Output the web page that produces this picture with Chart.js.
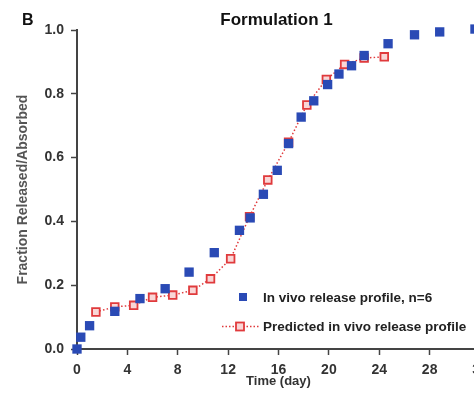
<!DOCTYPE html>
<html>
<head>
<meta charset="utf-8">
<script src="https://cdn.jsdelivr.net/npm/chart.js@4/dist/chart.umd.min.js"></script>
<style>
  html, body { margin: 0; padding: 0; background: #fff; overflow: hidden; }
  #wrap { width: 495px; height: 395px; }
</style>
</head>
<body>
<div id="wrap"><canvas id="c" width="495" height="395"></canvas></div>
<script>
const panelLabel = "B";
const chartTitle = "Formulation 1";
const xTitle = "Time (day)";
const yTitle = "Fraction Released/Absorbed";
const seriesNames = ["In vivo release profile, n=6", "Predicted in vivo release profile"];

const observedDays = [0, 0.3, 1.0, 3.0, 5.0, 7.0, 8.9, 10.9, 12.9, 13.75, 14.8, 15.9, 16.8, 17.8, 18.8, 19.9, 20.8, 21.8, 22.8, 24.7, 26.8, 28.8, 31.6];
const observedFrac = [0.0, 0.037, 0.073, 0.118, 0.158, 0.189, 0.241, 0.302, 0.372, 0.411, 0.485, 0.56, 0.644, 0.727, 0.778, 0.829, 0.862, 0.888, 0.92, 0.957, 0.985, 0.994, 1.003];

const predictedDays = [1.5, 3.0, 4.5, 6.0, 7.6, 9.2, 10.6, 12.2, 13.7, 15.15, 16.8, 18.25, 19.8, 21.25, 22.8, 24.4];
const predictedFrac = [0.116, 0.132, 0.137, 0.162, 0.169, 0.184, 0.220, 0.283, 0.415, 0.53, 0.648, 0.765, 0.845, 0.892, 0.912, 0.916];

const xTicks = [0, 4, 8, 12, 16, 20, 24, 28, 32];
const yTicks = [0.0, 0.2, 0.4, 0.6, 0.8, 1.0];

const BLUE = '#2a4ab5';
const RED = '#e03a3c';
const PINK = '#f9d6d6';
const AXIS = '#444';
const FONT = '"Liberation Sans", Arial, sans-serif';

const extrasPlugin = {
  id: 'extras',
  afterDraw(chart) {
    const ctx = chart.ctx;
    const ca = chart.chartArea;
    ctx.save();
    ctx.fillStyle = '#111';
    ctx.textBaseline = 'middle';
    ctx.font = 'bold 16px ' + FONT;
    ctx.textAlign = 'left';
    ctx.fillText(panelLabel, 22, 21);
    ctx.font = 'bold 17px ' + FONT;
    ctx.textAlign = 'center';
    ctx.fillText(chartTitle, (ca.left + ca.right) / 2 - 2, 20);

    // legend
    ctx.font = 'bold 13.5px ' + FONT;
    ctx.textAlign = 'left';
    ctx.fillStyle = '#222';
    const lx = 263;
    ctx.fillText(seriesNames[0], lx, 298);
    ctx.fillText(seriesNames[1], lx, 327);
    // blue square
    ctx.fillStyle = BLUE;
    ctx.fillRect(243 - 4, 297 - 4, 8, 8);
    // red dotted line + open square
    ctx.strokeStyle = RED;
    ctx.lineWidth = 1.5;
    ctx.setLineDash([1.5, 2]);
    ctx.beginPath();
    ctx.moveTo(222, 326.5);
    ctx.lineTo(259, 326.5);
    ctx.stroke();
    ctx.setLineDash([]);
    ctx.lineWidth = 1.8;
    ctx.fillStyle = PINK;
    ctx.fillRect(240 - 4, 326.5 - 4, 8, 8);
    ctx.strokeRect(240 - 4, 326.5 - 4, 8, 8);
    ctx.restore();
  }
};

new Chart(document.getElementById('c'), {
  type: 'scatter',
  data: {
    datasets: [
      {
        label: seriesNames[0],
        data: observedDays.map((d, i) => ({ x: d, y: observedFrac[i] })),
        showLine: false,
        pointStyle: 'rect',
        pointRadius: 6.6,
        pointHoverRadius: 6.6,
        pointBackgroundColor: BLUE,
        pointBorderColor: BLUE,
        pointBorderWidth: 0,
        clip: false
      },
      {
        label: seriesNames[1],
        data: predictedDays.map((d, i) => ({ x: d, y: predictedFrac[i] })),
        showLine: true,
        borderColor: RED,
        borderWidth: 1.5,
        borderDash: [1.5, 2.2],
        pointStyle: 'rect',
        pointRadius: 5.4,
        pointHoverRadius: 5.4,
        pointBackgroundColor: PINK,
        pointBorderColor: RED,
        pointBorderWidth: 1.8,
        clip: false
      }
    ]
  },
  options: {
    responsive: false,
    animation: false,
    devicePixelRatio: 1,
    layout: { padding: { top: 30, right: 15, bottom: 0, left: 0 } },
    plugins: {
      legend: { display: false },
      title: { display: false },
      tooltip: { enabled: false }
    },
    scales: {
      x: {
        type: 'linear',
        min: xTicks[0],
        max: xTicks[xTicks.length - 1],
        afterBuildTicks: (s) => { s.ticks = xTicks.map(v => ({ value: v })); },
        afterFit: (s) => { s.height = 46; },
        ticks: {
          color: '#333',
          font: { family: FONT, size: 14, weight: 'bold' },
          padding: 7,
          maxRotation: 0,
          callback: (v) => String(v)
        },
        grid: { display: true, drawOnChartArea: false, drawTicks: true, tickLength: 6, tickColor: AXIS, tickWidth: 1.5 },
        border: { display: true, color: AXIS, width: 2 },
        title: {
          display: true,
          text: xTitle,
          color: '#333',
          font: { family: FONT, size: 13, weight: 'bold' },
          padding: { top: 0, bottom: 6 }
        }
      },
      y: {
        type: 'linear',
        min: yTicks[0],
        max: yTicks[yTicks.length - 1],
        afterBuildTicks: (s) => { s.ticks = yTicks.map(v => ({ value: v })); },
        afterFit: (s) => { s.width = 77; },
        ticks: {
          color: '#333',
          font: { family: FONT, size: 14, weight: 'bold' },
          padding: 7,
          callback: (v) => Number(v).toFixed(1)
        },
        grid: { display: true, drawOnChartArea: false, drawTicks: true, tickLength: 6, tickColor: AXIS, tickWidth: 1.5 },
        border: { display: true, color: AXIS, width: 2 },
        title: {
          display: true,
          text: yTitle,
          color: '#555',
          font: { family: FONT, size: 14, weight: 'bold' },
          padding: { top: 15, bottom: 0 }
        }
      }
    }
  },
  plugins: [extrasPlugin]
});
</script>
</body>
</html>
